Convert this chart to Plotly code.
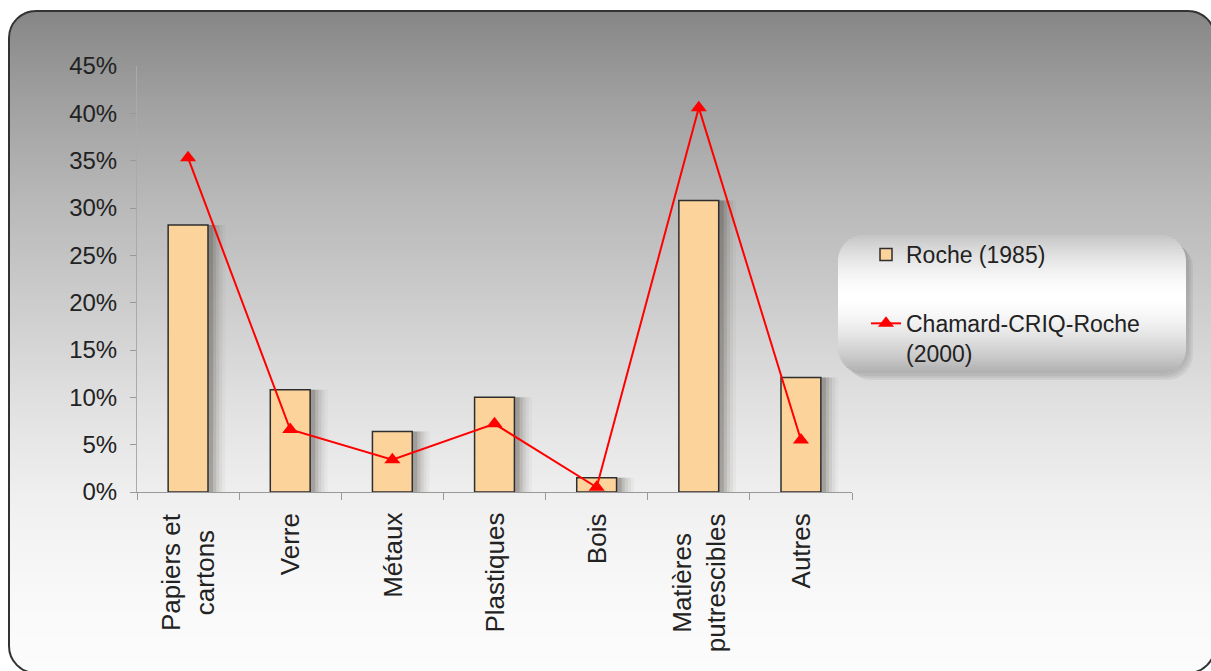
import numpy as np
import plotly.graph_objects as go

# ---- data -------------------------------------------------------------
categories = ["Papiers et<br>cartons", "Verre", "Métaux", "Plastiques", "Bois",
              "Matières<br>putrescibles", "Autres"]
roche_1985 = [28.2, 10.8, 6.4, 10.0, 1.5, 30.8, 12.1]
chamard_2000 = [35.3, 6.6, 3.4, 7.2, 0.5, 40.6, 5.5]
y_ticks = [0, 5, 10, 15, 20, 25, 30, 35, 40, 45]
y_tick_labels = ["0%", "5%", "10%", "15%", "20%", "25%", "30%", "35%", "40%", "45%"]

# ---- page geometry (pixels) --------------------------------------------
W, H = 1211, 671
L, R, T, B = 137, 852, 66, 492          # plot area edges


def px(x):
    return (x - L) / (R - L)


def py(y):
    return (B - y) / (B - T)


def gray(v, a=1.0):
    v = int(round(max(0, min(255, v))))
    return f"rgba({v},{v},{v},{a})"


def rounded_path(x0, y0, x1, y1, r):
    k = 0.5523 * r
    pts = [
        ("M", [(x0 + r, y0)]),
        ("L", [(x1 - r, y0)]),
        ("C", [(x1 - r + k, y0), (x1, y0 + r - k), (x1, y0 + r)]),
        ("L", [(x1, y1 - r)]),
        ("C", [(x1, y1 - r + k), (x1 - r + k, y1), (x1 - r, y1)]),
        ("L", [(x0 + r, y1)]),
        ("C", [(x0 + r - k, y1), (x0, y1 - r + k), (x0, y1 - r)]),
        ("L", [(x0, y0 + r)]),
        ("C", [(x0, y0 + r - k), (x0 + r - k, y0), (x0 + r, y0)]),
    ]
    s = ""
    for cmd, plist in pts:
        s += cmd + " ".join(f"{px(a):.5f},{py(b):.5f}" for a, b in plist) + " "
    return s + "Z"


def gradient_strips(x0, y0, x1, y1, r, colorfn, step=3):
    out = []
    y = y0
    while y < y1:
        yb = min(y + step, y1)
        yc = (y + yb) / 2
        inset = 0.0
        if yc < y0 + r:
            d = y0 + r - yc
            inset = r - np.sqrt(max(r * r - d * d, 0))
        elif yc > y1 - r:
            d = yc - (y1 - r)
            inset = r - np.sqrt(max(r * r - d * d, 0))
        out.append(dict(
            type="rect", xref="paper", yref="paper", layer="below",
            x0=px(x0 + inset), x1=px(x1 - inset),
            y0=py(y), y1=py(min(yb + 1, y1)),
            fillcolor=colorfn(yc, (yc - y0) / (y1 - y0)),
            line=dict(width=0),
        ))
        y = yb
    return out


shapes = []

# frame background: dark at the top, fading to near white at the bottom
fx0, fy0, fx1, fy1, fr = 9, 11, 1215, 673, 27
stops_y = [11, 100, 200, 300, 400, 500, 600, 673]
stops_v = [134, 160, 184, 204, 224, 240, 249, 252]
shapes += gradient_strips(fx0, fy0, fx1, fy1, fr,
                          lambda yc, t: gray(np.interp(yc, stops_y, stops_v)))

# legend box: soft drop shadow, then a glossy light panel
lx0, ly0, lx1, ly1, lr = 838, 235, 1186, 373, 26
for i, a in enumerate([0.05, 0.05, 0.06]):
    off = 3 + 2 * i
    shapes.append(dict(type="path", xref="paper", yref="paper", layer="below",
                       path=rounded_path(lx0 + off, ly0 + off, lx1 + off, ly1 + off, lr),
                       fillcolor=f"rgba(0,0,0,{a})", line=dict(width=0)))
shapes += gradient_strips(
    lx0, ly0, lx1, ly1, lr,
    lambda yc, t: gray(255 - 80 * (abs(t - 0.45) / 0.55) ** 1.6), step=2)

# frame border
shapes.append(dict(type="path", xref="paper", yref="paper", layer="below",
                   path=rounded_path(fx0, fy0, fx1, fy1, fr),
                   fillcolor="rgba(0,0,0,0)", line=dict(color="#333333", width=2)))

fig = go.Figure()

# soft shadows to the right of the columns
bar_w = 0.39
for k, a in enumerate([0.16, 0.10, 0.07, 0.05, 0.03]):
    fig.add_trace(go.Bar(
        x=categories, y=roche_1985,
        width=bar_w + 0.03 * (k + 1), offset=-bar_w / 2 + 0.02,
        marker=dict(color=f"rgba(40,30,20,{a})", line=dict(width=0)),
        showlegend=False, hoverinfo="skip",
    ))

fig.add_trace(go.Bar(
    x=categories, y=roche_1985, name="Roche (1985)",
    width=bar_w, offset=-bar_w / 2,
    marker=dict(color="#FDD39C", line=dict(color="#2e2e2e", width=1.5)),
    legendgroup="a",
))

fig.add_trace(go.Scatter(
    x=categories, y=chamard_2000, name="Chamard-CRIQ-Roche<br>(2000)",
    mode="lines+markers",
    line=dict(color="#FF0000", width=2),
    marker=dict(symbol="triangle-up", size=14, color="#FF0000"),
    legendgroup="b",
))

font_family = "Liberation Sans, Arial, sans-serif"

# category names, rotated and centred line by line under each column
annotations = [
    dict(x=c, xref="x", y=py(511), yref="paper", text=c, showarrow=False,
         textangle=-90, xanchor="center", yanchor="top", align="center",
         font=dict(size=26, family=font_family, color="#222222"))
    for c in categories
]

fig.update_layout(
    width=W, height=H,
    margin=dict(l=L, r=W - R, t=T, b=H - B, pad=0),
    paper_bgcolor="white",
    plot_bgcolor="rgba(0,0,0,0)",
    barmode="overlay",
    font=dict(family=font_family, color="#222222"),
    shapes=shapes,
    annotations=annotations,
    showlegend=True,
    legend=dict(
        x=px(866), xanchor="left", y=py(233), yanchor="top",
        bgcolor="rgba(0,0,0,0)", borderwidth=0,
        font=dict(size=23, family=font_family, color="#222222"),
        traceorder="grouped", tracegroupgap=36, valign="top",
    ),
    xaxis=dict(
        type="category", showline=True, linecolor="#999999", linewidth=1,
        ticks="outside", ticklen=7, tickcolor="#999999", tickson="boundaries",
        showticklabels=False, showgrid=False, zeroline=False,
        range=[-0.5, len(categories) - 0.5],
    ),
    yaxis=dict(
        range=[0, 45], tickvals=y_ticks, ticktext=y_tick_labels,
        showline=True, linecolor="#aaaaaa", linewidth=1,
        ticks="outside", ticklen=6, tickcolor="#999999",
        tickfont=dict(size=24, color="#222222"),
        ticklabelstandoff=8, showgrid=False, zeroline=False,
    ),
)

fig.write_html("out.html")
